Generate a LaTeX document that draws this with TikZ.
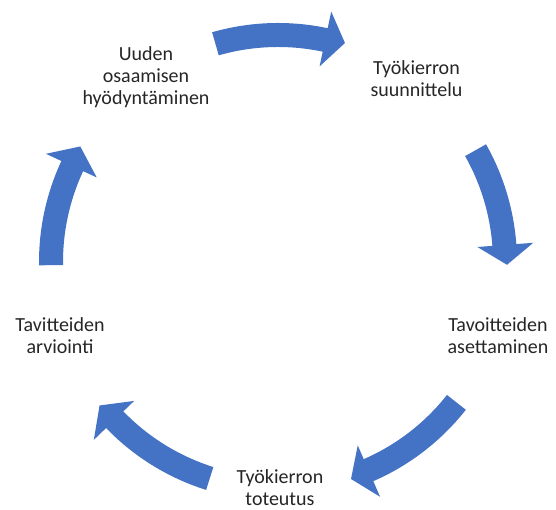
\documentclass[tikz,border=0pt]{standalone}
\usepackage{fontspec}
\setmainfont{Carlito}
\definecolor{arrowblue}{HTML}{4472C4}
\definecolor{labelgray}{HTML}{262626}
\newcommand{\cycarrow}[3]{%
  \fill[arrowblue] (#1:239) arc[start angle=#1, end angle=#2, radius=239]
    -- (#2:256) -- (#3:229) -- (#2:200) -- (#2:215)
    arc[start angle=#2, end angle=#1, radius=215] -- cycle;}
\begin{document}
\begin{tikzpicture}[x=1pt,y=1pt,
  lbl/.style={align=center,text=labelgray,inner sep=0pt,
    font=\fontsize{20}{22}\selectfont}]
\useasboundingbox (0,0) rectangle (556,510);
\fill[white] (0,0) rectangle (556,510);
\coordinate (C) at (278,248);
\node[lbl] (reuse) at (146,433) {Uuden\\osaamisen\\hyödyntäminen};
\node[lbl] (plan) at (416.5,431) {Työkierron\\suunnittelu};
\node[lbl] (goals) at (498,174) {Tavoitteiden\\asettaminen};
\node[lbl] (impl) at (280,22) {Työkierron\\toteutus};
\node[lbl] (eval) at (60,174) {Tavitteiden\\arviointi};
\begin{scope}[shift={(C)}]
  \cycarrow{106}{78}{73}
  \cycarrow{29.5}{4.3}{-0.7}
  \cycarrow{-38.2}{-66.5}{-71.4}
  \cycarrow{-107.5}{-136}{-141.2}
  \cycarrow{180.8}{155}{149.7}
\end{scope}
\end{tikzpicture}
\end{document}
